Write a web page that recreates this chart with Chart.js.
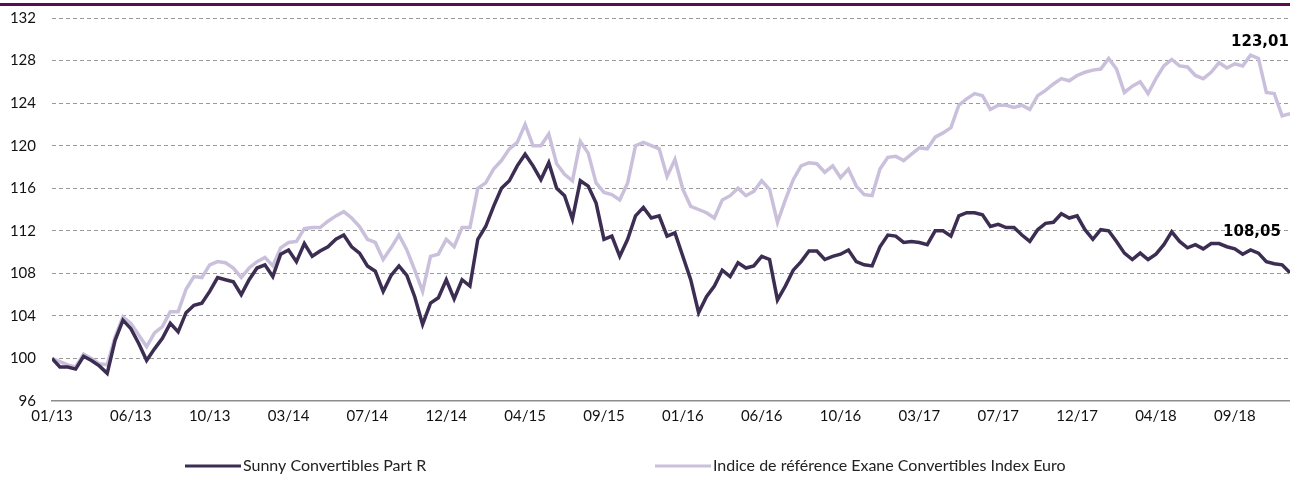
<!DOCTYPE html>
<html>
<head>
<meta charset="utf-8">
<script src="https://cdn.jsdelivr.net/npm/chart.js@4.4.1/dist/chart.umd.min.js"></script>
<style>
  html, body { margin: 0; padding: 0; background: #fff; overflow: hidden; }
  canvas { display: block; }
</style>
</head>
<body>
<canvas id="chart" width="1290" height="477"></canvas>
<script>
// tick labels, one every 10 points on the x index
const tickLabels = ['01/13', '06/13', '10/13', '03/14', '07/14', '12/14', '04/15', '09/15',
  '01/16', '06/16', '10/16', '03/17', '07/17', '12/17', '04/18', '09/18']

const seriesNames = ['Sunny Convertibles Part R', 'Indice de référence Exane Convertibles Index Euro']

// Sunny Convertibles Part R (base 100)
const sunny = [
  100.0, 99.2, 99.2, 99.0, 100.2, 99.8, 99.3, 98.6, 101.7, 103.6,
  102.8, 101.4, 99.8, 100.9, 101.9, 103.3, 102.5, 104.3, 105.0, 105.2,
  106.3, 107.6, 107.4, 107.2, 106.0, 107.4, 108.5, 108.8, 107.7, 109.8,
  110.2, 109.1, 110.8, 109.6, 110.1, 110.5, 111.2, 111.6, 110.5, 109.9,
  108.7, 108.2, 106.3, 107.8, 108.7, 107.8, 105.8, 103.2, 105.2, 105.7,
  107.4, 105.6, 107.4, 106.8, 111.2, 112.4, 114.3, 116.0, 116.7, 118.1,
  119.2, 118.1, 116.8, 118.4, 116.0, 115.3, 113.1, 116.7, 116.2, 114.6,
  111.2, 111.5, 109.6, 111.2, 113.4, 114.2, 113.2, 113.4, 111.5, 111.8,
  109.6, 107.4, 104.3, 105.8, 106.8, 108.3, 107.7, 109.0, 108.5, 108.7,
  109.6, 109.3, 105.5, 106.8, 108.3, 109.1, 110.1, 110.1, 109.3, 109.6,
  109.8, 110.2, 109.1, 108.8, 108.7, 110.5, 111.6, 111.5, 110.9, 111.0,
  110.9, 110.7, 112.0, 112.0, 111.5, 113.4, 113.7, 113.7, 113.5, 112.4,
  112.6, 112.3, 112.3, 111.6, 111.0, 112.1, 112.7, 112.8, 113.6, 113.2,
  113.4, 112.1, 111.2, 112.1, 112.0, 111.0, 109.9, 109.3, 109.9, 109.3,
  109.8, 110.7, 111.9, 111.0, 110.4, 110.7, 110.3, 110.8, 110.8, 110.5,
  110.3, 109.8, 110.2, 109.9, 109.1, 108.9, 108.8, 108.05
]

// Indice de référence Exane Convertibles Index Euro (base 100)
const exane = [
  100.0, 99.7, 99.4, 99.2, 100.4, 100.0, 99.5, 99.4, 102.0, 103.9,
  103.3, 102.2, 101.1, 102.4, 103.0, 104.4, 104.4, 106.5, 107.7, 107.6,
  108.8, 109.1, 109.0, 108.5, 107.6, 108.5, 109.1, 109.5, 108.7, 110.4,
  110.9, 111.0, 112.2, 112.3, 112.3, 112.9, 113.4, 113.8, 113.2, 112.4,
  111.2, 110.9, 109.3, 110.4, 111.6, 110.2, 108.3, 106.3, 109.6, 109.8,
  111.2, 110.5, 112.3, 112.3, 116.0, 116.5, 117.8, 118.6, 119.7, 120.3,
  122.0, 120.0, 120.0, 121.1, 118.3, 117.3, 116.7, 120.4, 119.3, 116.5,
  115.6, 115.4, 114.9, 116.5, 120.0, 120.3, 120.0, 119.7, 117.1, 118.7,
  115.9, 114.3, 114.0, 113.7, 113.2, 114.9, 115.3, 116.0, 115.3, 115.7,
  116.7, 115.9, 112.8, 114.9, 116.8, 118.1, 118.4, 118.3, 117.5, 118.1,
  117.0, 117.8, 116.2, 115.4, 115.3, 117.8, 118.9, 119.0, 118.6, 119.2,
  119.8, 119.7, 120.8, 121.2, 121.7, 123.8, 124.4, 124.9, 124.7, 123.4,
  123.8, 123.8, 123.6, 123.8, 123.4, 124.7, 125.2, 125.8, 126.3, 126.1,
  126.6, 126.9, 127.1, 127.2, 128.2, 127.2, 125.0, 125.6, 126.0, 124.9,
  126.3, 127.5, 128.1, 127.5, 127.4, 126.6, 126.3, 126.9, 127.8, 127.3,
  127.7, 127.5, 128.5, 128.2, 125.0, 124.9, 122.8, 123.01
]

const lastLabels = ['108,05', '123,01']

const DARK = 'rgb(60,45,82)'
const LIGHT = 'rgb(202,192,220)'

const toPoints = (arr) => arr.map((v, i) => ({ x: i, y: v }))

// frame line on top, end values and a legend centred on the plot area
const decorations = {
  id: 'decorations',
  afterDraw (chart) {
    const { ctx } = chart
    ctx.save()
    ctx.fillStyle = 'rgb(94,10,78)'
    ctx.fillRect(0, 3, chart.width, 3)

    ctx.fillStyle = '#000'
    ctx.textAlign = 'center'
    ctx.textBaseline = 'middle'
    ctx.font = 'bold 15px "DejaVu Sans"'
    ctx.fillText(lastLabels[1], 1260, 42)
    ctx.fillText(lastLabels[0], 1252, 232)

    const y = 466
    const items = [
      { x: 185, color: DARK, text: seriesNames[0] },
      { x: 655, color: LIGHT, text: seriesNames[1] }
    ]
    ctx.font = '16px Lato'
    ctx.textAlign = 'left'
    ctx.fillStyle = '#222'
    items.forEach(item => {
      ctx.strokeStyle = item.color
      ctx.lineWidth = 3
      ctx.beginPath()
      ctx.moveTo(item.x, y)
      ctx.lineTo(item.x + 56, y)
      ctx.stroke()
      ctx.fillText(item.text, item.x + 58, y)
    })
    ctx.restore()
  }
}

new Chart(document.getElementById('chart').getContext('2d'), {
  type: 'line',
  data: {
    datasets: [
      {
        label: seriesNames[0],
        data: toPoints(sunny),
        borderColor: DARK,
        borderWidth: 3.5,
        pointRadius: 0,
        tension: 0
      },
      {
        label: seriesNames[1],
        data: toPoints(exane),
        borderColor: LIGHT,
        borderWidth: 3.5,
        pointRadius: 0,
        tension: 0
      }
    ]
  },
  options: {
    responsive: false,
    animation: false,
    devicePixelRatio: 1,
    layout: { padding: { top: 18, left: 0, right: 0, bottom: 0 } },
    plugins: {
      legend: { display: false },
      tooltip: { enabled: false }
    },
    scales: {
      x: {
        type: 'linear',
        min: 0,
        max: sunny.length - 1,
        afterFit: (scale) => {
          scale.height = 76
          scale.paddingLeft = 0
          scale.paddingRight = 0
        },
        grid: { display: false, drawTicks: false },
        border: { display: true, color: '#8c8c8c', width: 1.5 },
        ticks: {
          stepSize: 10,
          includeBounds: false,
          autoSkip: false,
          maxRotation: 0,
          padding: 6,
          color: '#111',
          font: { family: 'Lato', size: 15 },
          callback: (v) => (v % 10 === 0 ? tickLabels[v / 10] : '')
        }
      },
      y: {
        min: 96,
        max: 132,
        afterFit: (scale) => {
          scale.width = 52
          scale.paddingTop = 0
          scale.paddingBottom = 0
        },
        grid: {
          color: (c) => (c.tick.value === 96 ? 'rgba(0,0,0,0)' : '#9a9a9a'),
          drawTicks: false,
          lineWidth: 1
        },
        border: { display: false, dash: [4, 3] },
        ticks: {
          stepSize: 4,
          padding: 16,
          color: '#111',
          font: { family: 'Lato', size: 15 }
        }
      }
    }
  },
  plugins: [decorations]
})
</script>
</body>
</html>
